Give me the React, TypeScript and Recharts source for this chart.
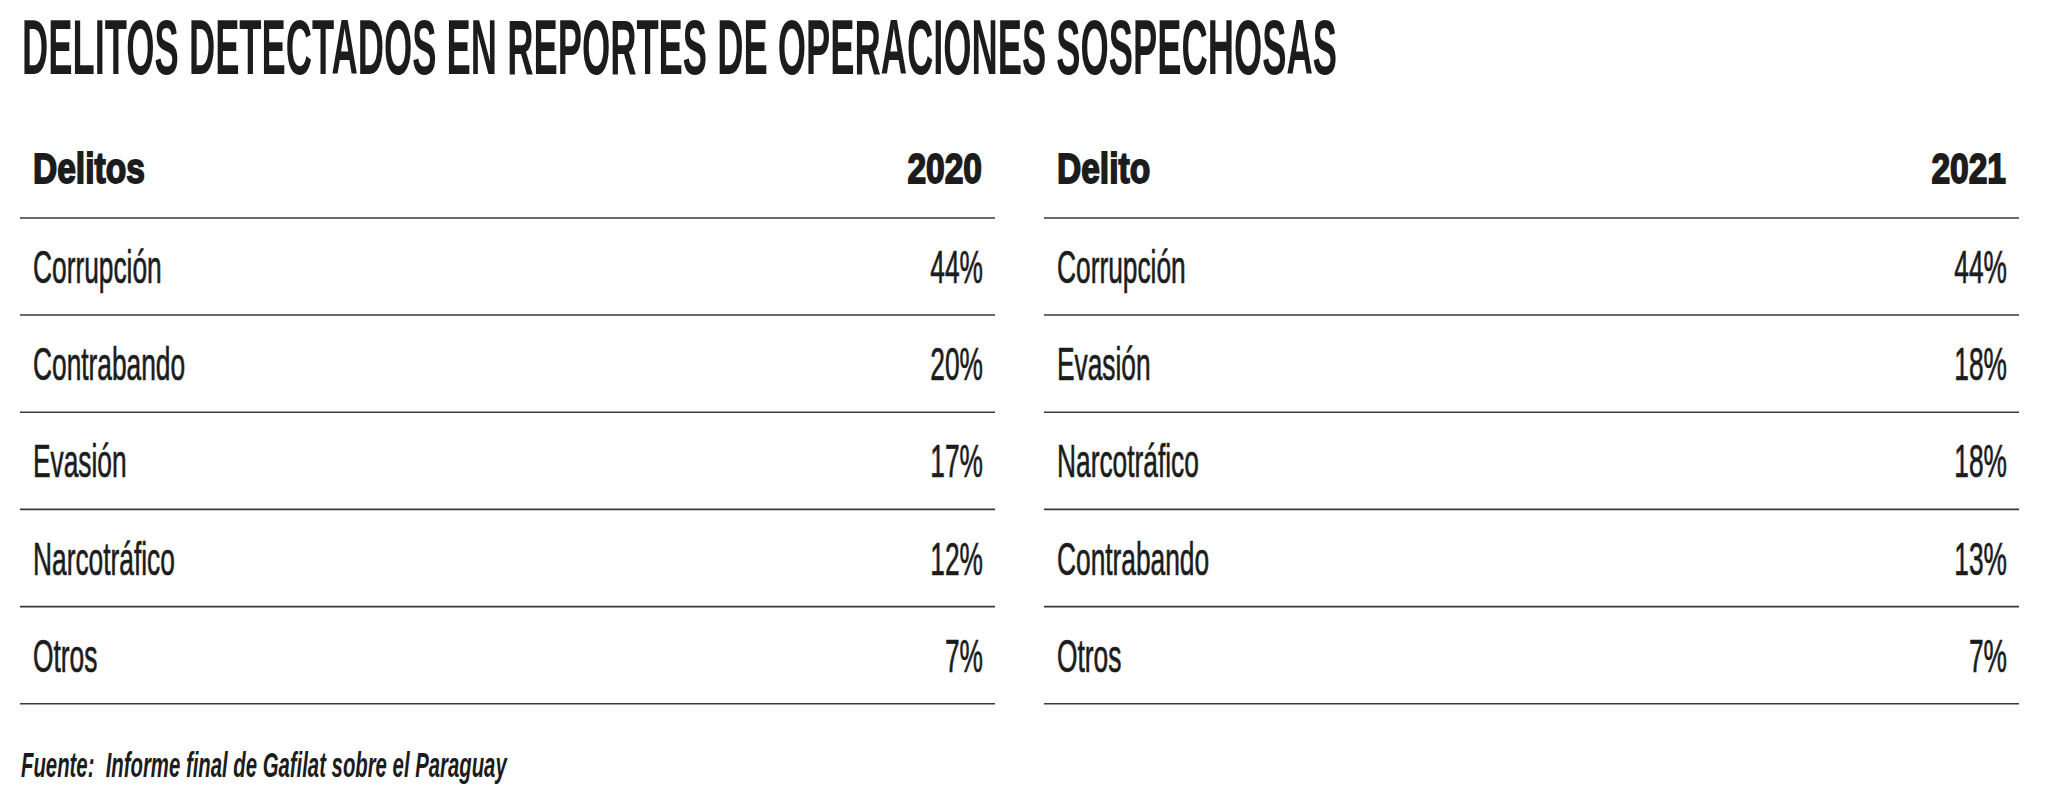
import React from "react";
import { BarChart, Bar, XAxis, YAxis, LabelList, Customized } from "recharts";

const TITLE = "DELITOS DETECTADOS EN REPORTES DE OPERACIONES SOSPECHOSAS";
const SOURCE = "Fuente:  Informe final de Gafilat sobre el Paraguay";

const delitos2020 = ["Corrupción", "Contrabando", "Evasión", "Narcotráfico", "Otros"];
const valores2020 = [44, 20, 17, 12, 7];

const delitos2021 = ["Corrupción", "Evasión", "Narcotráfico", "Contrabando", "Otros"];
const valores2021 = [44, 18, 18, 13, 7];

const headers2020 = ["Delitos", "2020"];
const headers2021 = ["Delito", "2021"];

const INK = "#1c1c1c";
const RULE = "#3a3a3a";
const FONT = "'Liberation Sans', Arial, sans-serif";
const TABLE_W = 975;
const PAD = 13;

function CondensedText({ x, y, anchor, size, weight, scale, stroke = 0, italic = false, children }: any) {
  return (
    <text
      transform={`translate(${x} ${y}) scale(${scale} 1)`}
      x={0}
      y={0}
      textAnchor={anchor}
      fontFamily={FONT}
      fontSize={size}
      fontWeight={weight}
      fontStyle={italic ? "italic" : "normal"}
      fill={INK}
      stroke={stroke ? INK : "none"}
      strokeWidth={stroke}
      style={{ whiteSpace: "pre" }}
    >
      {children}
    </text>
  );
}

function rowLine(props: any) {
  const { x, y, width, height, index } = props;
  return (
    <g key={`rule-${index}`}>
      {index === 0 && <line x1={x} x2={x + width} y1={y} y2={y} stroke={RULE} strokeWidth={1.6} />}
      <line x1={x} x2={x + width} y1={y + height} y2={y + height} stroke={RULE} strokeWidth={1.6} />
    </g>
  );
}

function nameLabel(props: any) {
  const vb = props.viewBox || props;
  const cy = vb.y + vb.height / 2 + 16.5;
  return (
    <CondensedText key={`n-${props.index}`} x={PAD} y={cy} anchor="start" size={47} weight="normal" scale={0.56} stroke={0.7}>
      {props.value}
    </CondensedText>
  );
}

function valueLabel(props: any) {
  const vb = props.viewBox || props;
  const cy = vb.y + vb.height / 2 + 16.5;
  return (
    <CondensedText key={`v-${props.index}`} x={TABLE_W - PAD + 1} y={cy} anchor="end" size={47} weight="normal" scale={0.56} stroke={0.7}>
      {`${props.value}%`}
    </CondensedText>
  );
}

function HeaderRow({ left, right }: { left: string; right: string }) {
  return (
    <g>
      <CondensedText x={PAD} y={63} anchor="start" size={43} weight="bold" scale={0.78} stroke={1.8}>
        {left}
      </CondensedText>
      <CondensedText x={TABLE_W - PAD} y={63} anchor="end" size={43} weight="bold" scale={0.78} stroke={1.8}>
        {right}
      </CondensedText>
    </g>
  );
}

function CrimeTable({ names, values, headers }: { names: string[]; values: number[]; headers: string[] }) {
  const data = names.map((name, i) => ({ name, value: values[i] }));
  return (
    <BarChart
      width={TABLE_W}
      height={588}
      data={data}
      layout="vertical"
      margin={{ top: 98, right: 0, bottom: 4, left: 0 }}
      barCategoryGap={0}
    >
      <XAxis type="number" domain={[0, 100]} hide />
      <YAxis type="category" dataKey="name" hide />
      <Bar dataKey="value" fill="none" isAnimationActive={false} background={rowLine}>
        <LabelList dataKey="name" content={nameLabel} />
        <LabelList dataKey="value" content={valueLabel} />
      </Bar>
      <Customized component={<HeaderRow left={headers[0]} right={headers[1]} />} />
    </BarChart>
  );
}

export default function App() {
  return (
    <div style={{ position: "absolute", left: 0, top: 0, width: 2067, height: 804, background: "#fff" }}>
      <svg width={2067} height={110} style={{ position: "absolute", left: 0, top: 0 }}>
        <CondensedText x={22} y={74} anchor="start" size={78} weight="bold" scale={0.466}>
          {TITLE}
        </CondensedText>
      </svg>
      <div style={{ position: "absolute", left: 20, top: 120 }}>
        <CrimeTable names={delitos2020} values={valores2020} headers={headers2020} />
      </div>
      <div style={{ position: "absolute", left: 1044, top: 120 }}>
        <CrimeTable names={delitos2021} values={valores2021} headers={headers2021} />
      </div>
      <svg width={2067} height={64} style={{ position: "absolute", left: 0, top: 740 }}>
        <CondensedText x={21} y={37} anchor="start" size={36} weight="bold" scale={0.565} italic>
          {SOURCE}
        </CondensedText>
      </svg>
    </div>
  );
}
